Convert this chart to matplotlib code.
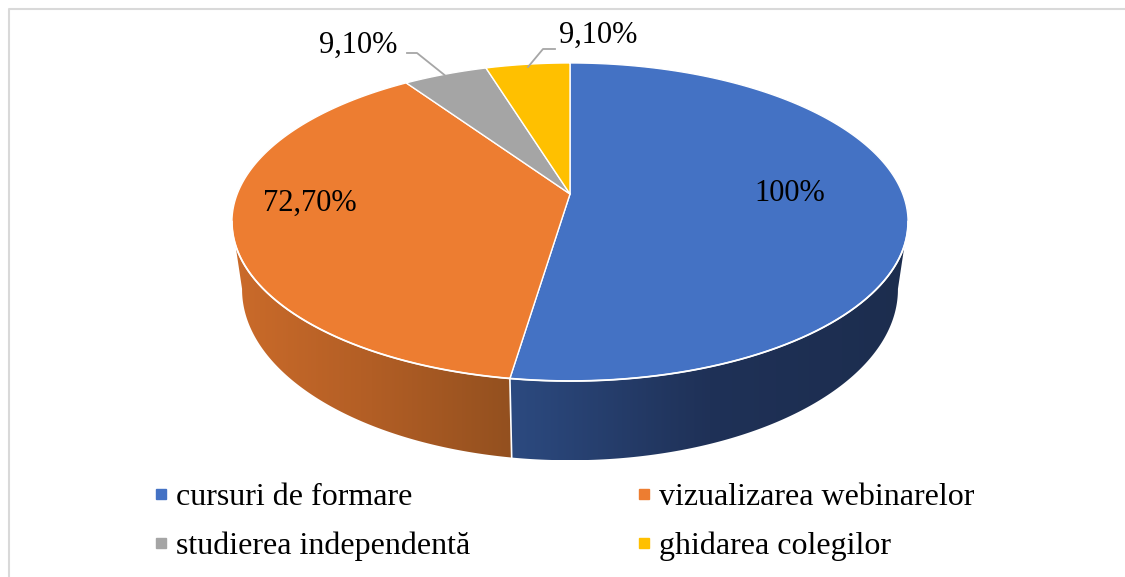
import numpy as np
import matplotlib
matplotlib.use("Agg")
import matplotlib.pyplot as plt
from matplotlib.patches import Polygon
from matplotlib.lines import Line2D
from matplotlib.colors import LinearSegmentedColormap

# Data
categories = ["cursuri de formare", "vizualizarea webinarelor",
              "studierea independentă", "ghidarea colegilor"]
values = [100, 72.7, 9.1, 9.1]
value_labels = ["100%", "72,70%", "9,10%", "9,10%"]

# Styles
top_colors = ["#4472C4", "#ED7D31", "#A5A5A5", "#FFC000"]
side_stops = [["#2C4A80", "#1F3157", "#1C2D4E"],
              ["#CB6B2A", "#B25E25", "#93501F"],
              ["#7C7C7C", "#6A6A6A", "#5A5A5A"],
              ["#BF9000", "#A67D00", "#8C6A00"]]

plt.rcParams["font.family"] = ["Liberation Serif", "DejaVu Serif"]

# pie geometry (pixels) with a bit of perspective
CX, CY = 570, 194
A, B = 332.8, 154.1
K = 0.176
DEPTH = 65.3
SHRINK = 0.97


def proj(theta, r=1.0, bottom=False):
    t = np.radians(theta)
    u = r * np.sin(t)
    v = -r * np.cos(t)
    w = 1 - K * v
    x = CX + A * u / w
    y = CY + B * v / w
    if bottom:
        x = CX + (x - CX) * SHRINK
        y = y + DEPTH / w
    return x, y


fig = plt.figure(figsize=(11.25, 5.77), dpi=100)
ax = fig.add_axes([0, 0, 1, 1])

angles = np.concatenate([[0], np.cumsum(values) / np.sum(values) * 360])

# side walls (only the front part is visible)
for i in range(len(values)):
    lo = max(angles[i], 100)
    hi = min(angles[i + 1], 260)
    if lo >= hi:
        continue
    th = np.linspace(lo, hi, 200)
    xt, yt = proj(th)
    xb, yb = proj(th[::-1], bottom=True)
    pts = np.column_stack([np.concatenate([xt, xb]), np.concatenate([yt, yb])])
    wall = Polygon(pts, closed=True, facecolor="none", edgecolor="none")
    ax.add_patch(wall)
    cmap = LinearSegmentedColormap.from_list("side%d" % i, side_stops[i])
    grad = np.linspace(0, 1, 256).reshape(1, -1)
    img = ax.imshow(grad, cmap=cmap, aspect="auto", interpolation="bilinear",
                    extent=(pts[:, 0].min(), pts[:, 0].max(),
                            pts[:, 1].max(), pts[:, 1].min()))
    img.set_clip_path(wall)

# white line between the walls
for a in angles[1:-1]:
    if 100 < a < 260:
        x0, y0 = proj(a)
        x1, y1 = proj(a, bottom=True)
        ax.plot([x0, x1], [y0, y1], color="white", lw=1.2)

# top faces
for i in range(len(values)):
    th = np.linspace(angles[i], angles[i + 1], 200)
    xt, yt = proj(th)
    pts = np.column_stack([np.concatenate([[CX], xt]), np.concatenate([[CY], yt])])
    ax.add_patch(Polygon(pts, closed=True, facecolor=top_colors[i],
                         edgecolor="white", lw=1.0, joinstyle="round"))

# rim highlight
th = np.linspace(100, 260, 300)
xr, yr = proj(th)
ax.plot(xr, yr, color="white", lw=1.3)

# data labels
label_pos = [(790, 201), (310, 211), (358, 53), (598, 43)]
for (x, y), txt in zip(label_pos, value_labels):
    ax.text(x, y, txt, fontsize=22, ha="center", va="baseline", color="black")

# leader lines
ax.plot([407, 417, 447], [53, 53, 77], color="#A6A6A6", lw=1.3)
ax.plot([555, 543, 528], [49, 49, 67], color="#A6A6A6", lw=1.3)

# chart border
ax.plot([9, 9, 1125], [577, 9, 9], color="#D9D9D9", lw=1.5)

# legend, filled row by row like Excel
handles = [Line2D([], [], marker="s", linestyle="none", markersize=7.5,
                  markerfacecolor=c, markeredgecolor=c) for c in top_colors]
order = [0, 2, 1, 3]
ax.legend([handles[i] for i in order], [categories[i] for i in order],
          ncol=2, loc="center left",
          bbox_to_anchor=(153, 522), bbox_transform=ax.transData,
          frameon=False, fontsize=23, borderpad=0, borderaxespad=0,
          handlelength=0.5, handletextpad=0.22, columnspacing=5.2,
          labelspacing=0.62)

ax.set_xlim(0, 1125)
ax.set_ylim(577, 0)
ax.axis("off")

fig.savefig("out.png", dpi=100)
